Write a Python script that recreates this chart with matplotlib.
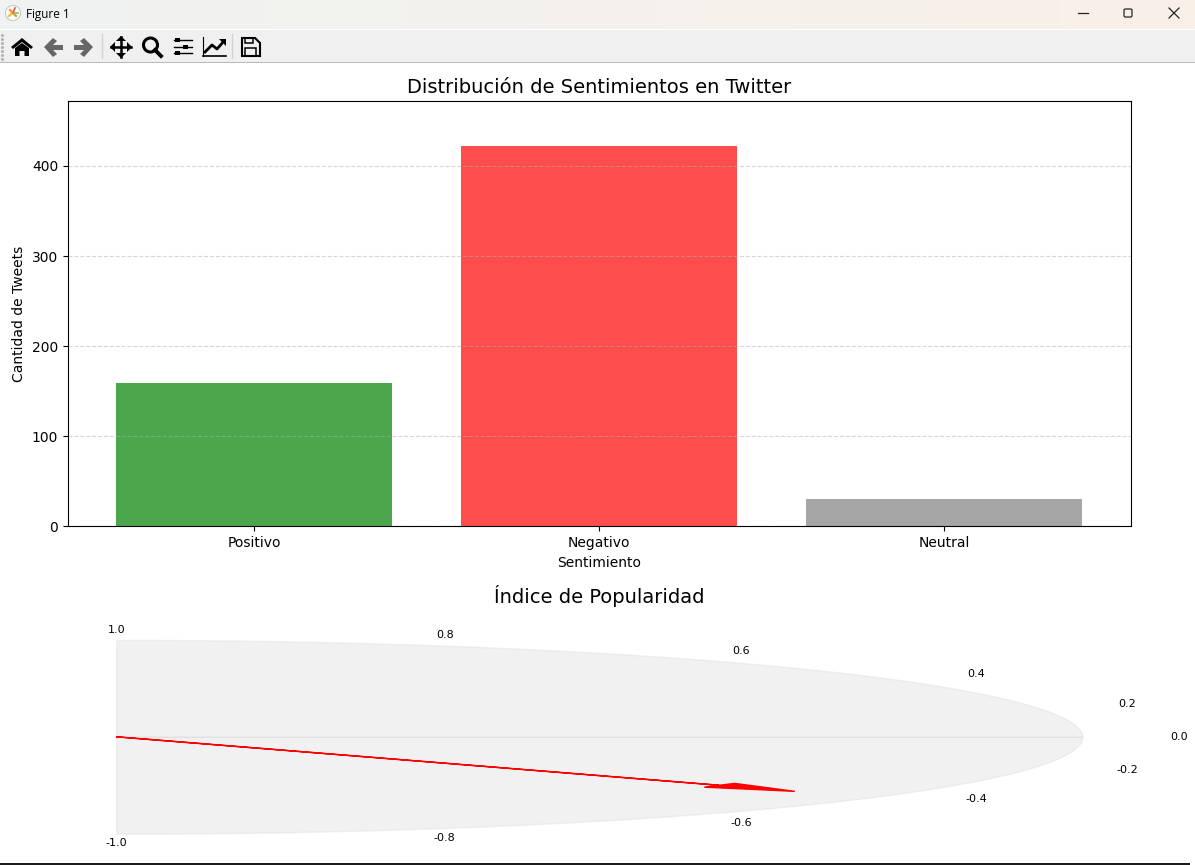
import numpy as np
import matplotlib
matplotlib.use("Agg")
import matplotlib.pyplot as plt
from matplotlib.patches import Rectangle, Circle, Polygon, FancyBboxPatch

# ---- data ----
categories = ["Positivo", "Negativo", "Neutral"]
counts = [159, 422, 30]
bar_colors = ["green", "red", "gray"]
y_ticks = [0, 100, 200, 300, 400]
gauge_values = [1.0, 0.8, 0.6, 0.4, 0.2, 0.0, -0.2, -0.4, -0.6, -0.8, -1.0]
popularity_index = -0.43

W, H = 1195, 865
fig = plt.figure(figsize=(W / 100, H / 100), dpi=100, facecolor="white")


def rect_px(left, top, right, bottom):
    return [left / W, 1 - bottom / H, (right - left) / W, (bottom - top) / H]


# ---- window chrome, in pixel coordinates ----
ui = fig.add_axes([0, 0, 1, 1], zorder=-1)
ui.set_xlim(0, W)
ui.set_ylim(H, 0)
ui.axis("off")
grad = np.linspace(0, 1, 256)[None, :, None]
c0 = np.array([240, 243, 242]) / 255
c1 = np.array([249, 240, 232]) / 255
ui.imshow(c0 + (c1 - c0) * grad, extent=(0, W, 29, 0), aspect="auto")
ui.set_xlim(0, W)
ui.set_ylim(H, 0)
ui.add_patch(Rectangle((0, 30), W, 32, fc="#f0f0f0", ec="none"))
ui.add_patch(Rectangle((0, 62), W, 1, fc="#b9b9b9", ec="none"))
ui.add_patch(Rectangle((0, 863), W - 5, 2, fc="#1c1c1c", ec="none"))
ui.text(26, 14.5, "Figure 1", fontsize=8.5, family="Open Sans", va="center", ha="left", color="black")
# app icon
ui.add_patch(Circle((13, 13), 7.5, fc="white", ec="#c8c8c8", lw=0.8))
ui.plot([10, 16], [10, 16], color="#e8962a", lw=1.6)
ui.plot([9, 13], [16, 12], color="#f2c230", lw=1.6)
ui.plot([13, 15], [13, 8], color="#d9534f", lw=1.2)
ui.plot([14, 18], [13, 13], color="#7cc26a", lw=1.2)
# window buttons
ui.plot([1078, 1088], [13, 13], color="#222222", lw=0.9)
ui.add_patch(FancyBboxPatch((1124, 9), 8, 8, boxstyle="round,pad=0,rounding_size=1.5", fc="none", ec="#222222", lw=0.9))
ui.plot([1169, 1179], [8, 18], color="#222222", lw=0.9)
ui.plot([1169, 1179], [18, 8], color="#222222", lw=0.9)
# grip and separators
for gy in range(35, 60, 4):
    ui.plot([2.5], [gy], marker="s", ms=1, color="#b0b0b0")
for sx in (102, 232):
    ui.plot([sx, sx], [34, 58], color="#d2d2d2", lw=1)
# home
ui.add_patch(Polygon([(11, 47), (22, 38), (33, 47), (31, 49), (22, 42), (13, 49)], fc="black", ec="none"))
ui.add_patch(Polygon([(15, 48), (22, 43), (29, 48), (29, 56), (24.5, 56), (24.5, 51), (19.5, 51), (19.5, 56), (15, 56)], fc="black", ec="none"))
# back / forward
ui.add_patch(Polygon([(44, 47), (53, 38), (57, 41), (53, 45), (63, 45), (63, 50), (53, 50), (57, 54), (53, 57)], fc="#666666", ec="none"))
ui.add_patch(Polygon([(93, 47), (84, 38), (80, 41), (84, 45), (74, 45), (74, 50), (84, 50), (80, 54), (84, 57)], fc="#666666", ec="none"))
# pan
ui.plot([111, 131], [47, 47], color="black", lw=1.8)
ui.plot([121, 121], [37, 57], color="black", lw=1.8)
for pts in ([(110, 47), (115, 42), (115, 52)], [(132, 47), (127, 42), (127, 52)],
            [(121, 36), (116, 41), (126, 41)], [(121, 58), (116, 53), (126, 53)]):
    ui.add_patch(Polygon(pts, fc="black", ec="none"))
# zoom
ui.add_patch(Circle((150.5, 45), 7, fc="none", ec="black", lw=2.2))
ui.plot([155, 161], [50, 56], color="black", lw=2.8)
# sliders
for sy, sx in ((40, 178), (47, 186), (53, 178)):
    ui.plot([174, 192], [sy, sy], color="black", lw=1.0)
    ui.add_patch(Rectangle((sx - 2.5, sy - 2), 5, 4, fc="black", ec="none"))
# line chart icon
ui.plot([203, 226], [55.5, 55.5], color="black", lw=1.2)
ui.plot([203, 203], [37, 55.5], color="black", lw=0.8)
ui.plot([205, 212, 217, 224], [52, 45, 49, 41], color="black", lw=2.0)
ui.add_patch(Polygon([(219, 39), (226, 39), (226, 46)], fc="black", ec="none"))
# floppy
ui.add_patch(Polygon([(242, 38), (255, 38), (260, 43), (260, 56), (242, 56)], fc="none", ec="black", lw=1.5))
ui.add_patch(Rectangle((245, 38), 8, 5, fc="none", ec="black", lw=1.1))
ui.add_patch(Rectangle((245, 48), 11, 8, fc="none", ec="black", lw=1.1))

# ---- bar chart ----
ax1 = fig.add_axes(rect_px(68, 101, 1130.6, 526.4))
ax1.bar(categories, counts, color=bar_colors, alpha=0.7)
ax1.set_ylim(0, 472)
ax1.set_yticks(y_ticks)
ax1.grid(axis="y", linestyle="--", alpha=0.5)
ax1.set_title("Distribución de Sentimientos en Twitter", fontsize=14)
ax1.set_xlabel("Sentimiento")
ax1.set_ylabel("Cantidad de Tweets")

# ---- gauge ----
ax2 = fig.add_axes(rect_px(68, 610.8, 1130.6, 862.8))
ax2.patch.set_alpha(0)
theta = np.linspace(0, np.pi / 2, 200)
ax2.fill_between(np.cos(theta), 0, np.sin(theta), color="lightgray", alpha=0.3)
ax2.fill_between(np.cos(theta), 0, -np.sin(theta), color="lightgray", alpha=0.3)
for v in gauge_values:
    a = v * np.pi / 2
    ax2.text(1.1 * np.cos(a), 1.1 * np.sin(a), f"{v:.1f}", ha="center", va="center", fontsize=8)
needle = popularity_index * np.pi / 2
ax2.arrow(0, 0, 0.8 * np.cos(needle), 0.8 * np.sin(needle),
          head_width=0.05, head_length=0.1, fc="red", ec="red")
ax2.set_xlim(-0.05, 1.05)
ax2.set_ylim(-1.3, 1.3)
ax2.axis("off")
ax2.set_title("Índice de Popularidad", fontsize=14, pad=5.6)

fig.savefig("out.png", dpi=100)
